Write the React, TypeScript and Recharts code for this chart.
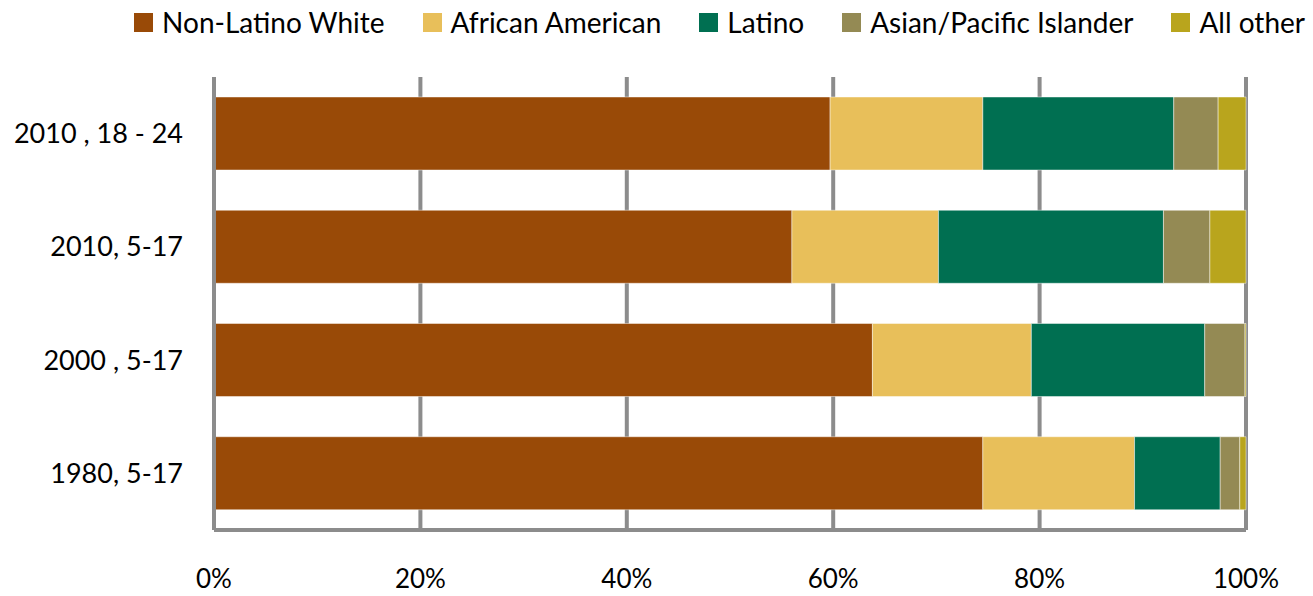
import { BarChart, Bar, XAxis, YAxis, CartesianGrid, Legend } from "recharts";

const GROUPS = ["2010 , 18 - 24", "2010, 5-17", "2000 , 5-17", "1980, 5-17"];
const WHITE = [59.7, 56.0, 63.8, 74.5];
const AFRICAN = [14.8, 14.2, 15.4, 14.7];
const LATINO = [18.5, 21.8, 16.8, 8.3];
const ASIAN = [4.3, 4.5, 3.9, 1.9];
const OTHER = [2.7, 3.5, 0.1, 0.6];
const X_TICKS = [0, 20, 40, 60, 80, 100];

const SERIES = [
  { key: "white", name: "Non-Latino White", color: "#994A07" },
  { key: "african", name: "African American", color: "#E8BF5A" },
  { key: "latino", name: "Latino", color: "#006F51" },
  { key: "asian", name: "Asian/Pacific Islander", color: "#948A54" },
  { key: "other", name: "All other", color: "#B9A51D" },
];

const DATA = GROUPS.map((g, i) => ({
  group: g,
  white: WHITE[i],
  african: AFRICAN[i],
  latino: LATINO[i],
  asian: ASIAN[i],
  other: OTHER[i],
}));

const FONT = "Lato, 'DejaVu Sans', sans-serif";

const LegendContent = () => (
  <div style={{ height: 40, display: "flex", alignItems: "center", justifyContent: "flex-end", paddingRight: 8, fontFamily: FONT, fontSize: 28, color: "#000" }}>
    {SERIES.map((s, i) => (
      <div key={s.key} style={{ display: "flex", alignItems: "center", marginLeft: i === 0 ? 0 : 38 }}>
        <span style={{ width: 19, height: 19, background: s.color, marginRight: 9, display: "inline-block" }} />
        <span>{s.name}</span>
      </div>
    ))}
  </div>
);

export default function App() {
  return (
    <div style={{ position: "absolute", left: 0, top: 0, background: "#fff" }}>
      <BarChart
        width={1313}
        height={596}
        data={DATA}
        layout="vertical"
        margin={{ top: 37, right: 67, bottom: 0, left: 0 }}
        barSize={73}
      >
        <CartesianGrid horizontal={false} stroke="#8c8c8c" strokeWidth={4} />
        <XAxis
          type="number"
          domain={[0, 100]}
          ticks={X_TICKS}
          tickFormatter={(v: number) => `${v}%`}
          height={66}
          axisLine={{ stroke: "#8c8c8c", strokeWidth: 4 }}
          tickLine={false}
          tickMargin={34}
          tick={{ fill: "#000", fontSize: 26, fontFamily: FONT }}
        />
        <YAxis
          type="category"
          dataKey="group"
          width={214}
          axisLine={{ stroke: "#8c8c8c", strokeWidth: 4 }}
          tickLine={false}
          tickMargin={25}
          tick={{ fill: "#000", fontSize: 27, fontFamily: FONT }}
        />
        <Legend verticalAlign="top" wrapperStyle={{ top: 2, left: 0, width: 1313 }} content={<LegendContent />} />
        {SERIES.map((s) => (
          <Bar
            key={s.key}
            dataKey={s.key}
            name={s.name}
            stackId="a"
            fill={s.color}
            stroke="rgba(255,255,255,0.45)"
            strokeWidth={1}
            isAnimationActive={false}
          />
        ))}
      </BarChart>
    </div>
  );
}
